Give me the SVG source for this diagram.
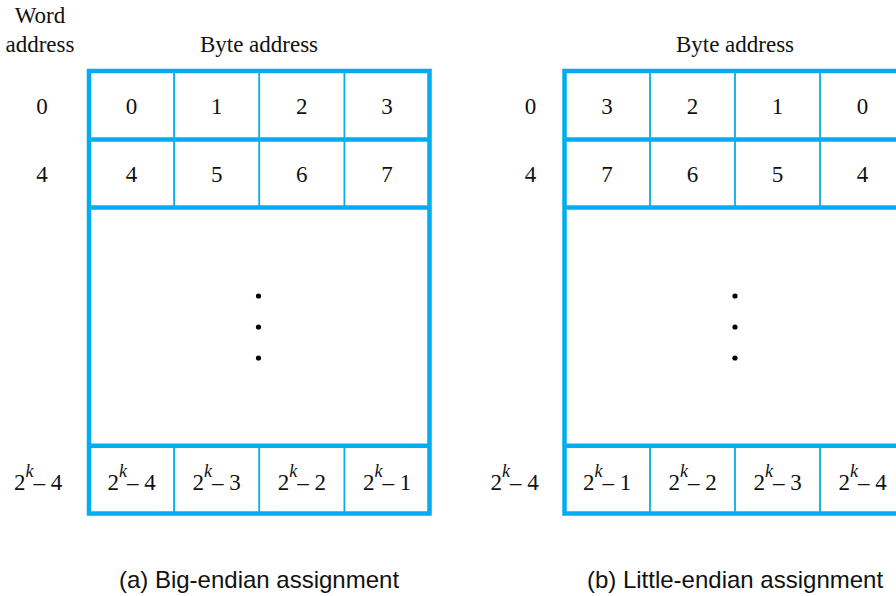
<svg xmlns="http://www.w3.org/2000/svg" width="896" height="596" viewBox="0 0 896 596">
<style>
.t{font-family:"Liberation Serif","Times New Roman",serif;font-size:23px;fill:#111;text-anchor:middle}
.sup{font-style:italic;font-size:18px}
.cap{font-family:"Liberation Sans",Arial,sans-serif;font-size:24px;fill:#111;text-anchor:middle}
.thick{stroke:#00aeef;stroke-width:4.5;fill:none}
.thin{stroke:#00aeef;stroke-width:1.8;fill:none}
.dot{fill:#000}
</style>
<rect width="896" height="596" fill="#fff"/>
<g id="labels">
<text class="t" x="40" y="23">Word</text>
<text class="t" x="40" y="52">address</text>
</g>
<g id="big-endian">
<text class="t" x="259" y="52">Byte address</text>
<rect class="thick" x="89" y="71" width="340.5" height="442.5"/>
<line class="thick" x1="89" y1="139.5" x2="429.5" y2="139.5"/>
<line class="thick" x1="89" y1="207.5" x2="429.5" y2="207.5"/>
<line class="thick" x1="89" y1="445.7" x2="429.5" y2="445.7"/>
<line class="thin" x1="174.1" y1="71" x2="174.1" y2="207.5"/>
<line class="thin" x1="259.2" y1="71" x2="259.2" y2="207.5"/>
<line class="thin" x1="344.4" y1="71" x2="344.4" y2="207.5"/>
<line class="thin" x1="174.1" y1="445.7" x2="174.1" y2="513.5"/>
<line class="thin" x1="259.2" y1="445.7" x2="259.2" y2="513.5"/>
<line class="thin" x1="344.4" y1="445.7" x2="344.4" y2="513.5"/>
<text class="t" x="42" y="114">0</text>
<text class="t" x="42" y="182">4</text>
<text class="t" x="131.5" y="114">0</text>
<text class="t" x="216.7" y="114">1</text>
<text class="t" x="301.8" y="114">2</text>
<text class="t" x="387" y="114">3</text>
<text class="t" x="131.5" y="182">4</text>
<text class="t" x="216.7" y="182">5</text>
<text class="t" x="301.8" y="182">6</text>
<text class="t" x="387" y="182">7</text>
<circle class="dot" cx="258.5" cy="296" r="2.6"/>
<circle class="dot" cx="258.5" cy="327" r="2.6"/>
<circle class="dot" cx="258.5" cy="358" r="2.6"/>
<text class="t" x="38" y="490">2<tspan class="sup" dy="-13">k</tspan><tspan dy="13">– 4</tspan></text>
<text class="t" x="131.5" y="490">2<tspan class="sup" dy="-13">k</tspan><tspan dy="13">– 4</tspan></text>
<text class="t" x="216.7" y="490">2<tspan class="sup" dy="-13">k</tspan><tspan dy="13">– 3</tspan></text>
<text class="t" x="301.8" y="490">2<tspan class="sup" dy="-13">k</tspan><tspan dy="13">– 2</tspan></text>
<text class="t" x="387" y="490">2<tspan class="sup" dy="-13">k</tspan><tspan dy="13">– 1</tspan></text>
<text class="cap" x="259" y="588">(a) Big-endian assignment</text>
</g>
<g id="little-endian">
<text class="t" x="735" y="52">Byte address</text>
<rect class="thick" x="564.5" y="71" width="340.5" height="442.5"/>
<line class="thick" x1="564.5" y1="139.5" x2="905" y2="139.5"/>
<line class="thick" x1="564.5" y1="207.5" x2="905" y2="207.5"/>
<line class="thick" x1="564.5" y1="445.7" x2="905" y2="445.7"/>
<line class="thin" x1="650" y1="71" x2="650" y2="207.5"/>
<line class="thin" x1="735" y1="71" x2="735" y2="207.5"/>
<line class="thin" x1="820" y1="71" x2="820" y2="207.5"/>
<line class="thin" x1="650" y1="445.7" x2="650" y2="513.5"/>
<line class="thin" x1="735" y1="445.7" x2="735" y2="513.5"/>
<line class="thin" x1="820" y1="445.7" x2="820" y2="513.5"/>
<text class="t" x="530.5" y="114">0</text>
<text class="t" x="530.5" y="182">4</text>
<text class="t" x="607" y="114">3</text>
<text class="t" x="692.5" y="114">2</text>
<text class="t" x="777.5" y="114">1</text>
<text class="t" x="862.5" y="114">0</text>
<text class="t" x="607" y="182">7</text>
<text class="t" x="692.5" y="182">6</text>
<text class="t" x="777.5" y="182">5</text>
<text class="t" x="862.5" y="182">4</text>
<circle class="dot" cx="735" cy="296" r="2.6"/>
<circle class="dot" cx="735" cy="327" r="2.6"/>
<circle class="dot" cx="735" cy="358" r="2.6"/>
<text class="t" x="514.5" y="490">2<tspan class="sup" dy="-13">k</tspan><tspan dy="13">– 4</tspan></text>
<text class="t" x="607" y="490">2<tspan class="sup" dy="-13">k</tspan><tspan dy="13">– 1</tspan></text>
<text class="t" x="692.5" y="490">2<tspan class="sup" dy="-13">k</tspan><tspan dy="13">– 2</tspan></text>
<text class="t" x="777.5" y="490">2<tspan class="sup" dy="-13">k</tspan><tspan dy="13">– 3</tspan></text>
<text class="t" x="862.5" y="490">2<tspan class="sup" dy="-13">k</tspan><tspan dy="13">– 4</tspan></text>
<text class="cap" x="735" y="588">(b) Little-endian assignment</text>
</g>
</svg>
